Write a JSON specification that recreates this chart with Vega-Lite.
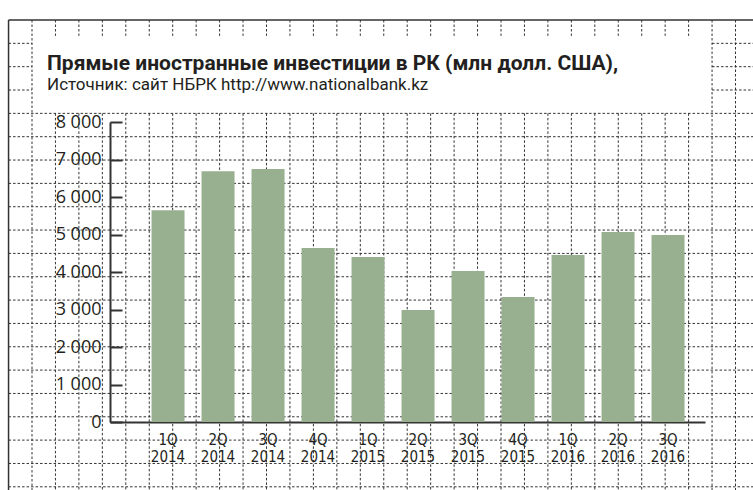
{
  "$schema": "https://vega.github.io/schema/vega-lite/v6.json",
  "width": 753,
  "height": 490,
  "padding": 0,
  "autosize": "none",
  "background": "white",
  "config": {"view": {"stroke": null}},
  "title": {
    "text": "Прямые иностранные инвестиции в РК (млн долл. США),",
    "subtitle": "Источник: сайт НБРК http://www.nationalbank.kz",
    "anchor": "start",
    "frame": "group",
    "orient": "top",
    "offset": 0,
    "dx": 47,
    "dy": 93,
    "font": "Roboto",
    "fontSize": 21,
    "fontWeight": "bold",
    "color": "#231f20",
    "subtitleFont": "Roboto",
    "subtitleFontSize": 17,
    "subtitleColor": "#231f20",
    "subtitlePadding": 3
  },
  "datasets": {
    "vgrid": [
      {"gx": 1, "gy": 0, "gy2": 21},
      {"gx": 2, "gy": 0, "gy2": 0.68}, {"gx": 2, "gy": 4, "gy2": 21},
      {"gx": 3, "gy": 0, "gy2": 0.68}, {"gx": 3, "gy": 4, "gy2": 21},
      {"gx": 4, "gy": 0, "gy2": 0.68}, {"gx": 4, "gy": 4, "gy2": 21},
      {"gx": 5, "gy": 0, "gy2": 0.68}, {"gx": 5, "gy": 4, "gy2": 21},
      {"gx": 6, "gy": 0, "gy2": 0.68}, {"gx": 6, "gy": 4, "gy2": 21},
      {"gx": 7, "gy": 0, "gy2": 0.68}, {"gx": 7, "gy": 4, "gy2": 21},
      {"gx": 8, "gy": 0, "gy2": 0.68}, {"gx": 8, "gy": 4, "gy2": 21},
      {"gx": 9, "gy": 0, "gy2": 0.68}, {"gx": 9, "gy": 4, "gy2": 21},
      {"gx": 10, "gy": 0, "gy2": 0.68}, {"gx": 10, "gy": 4, "gy2": 21},
      {"gx": 11, "gy": 0, "gy2": 0.68}, {"gx": 11, "gy": 4, "gy2": 21},
      {"gx": 12, "gy": 0, "gy2": 0.68}, {"gx": 12, "gy": 4, "gy2": 21},
      {"gx": 13, "gy": 0, "gy2": 0.68}, {"gx": 13, "gy": 4, "gy2": 21},
      {"gx": 14, "gy": 0, "gy2": 0.68}, {"gx": 14, "gy": 4, "gy2": 21},
      {"gx": 15, "gy": 0, "gy2": 0.68}, {"gx": 15, "gy": 4, "gy2": 21},
      {"gx": 16, "gy": 0, "gy2": 0.68}, {"gx": 16, "gy": 4, "gy2": 21},
      {"gx": 17, "gy": 0, "gy2": 0.68}, {"gx": 17, "gy": 4, "gy2": 21},
      {"gx": 18, "gy": 0, "gy2": 0.68}, {"gx": 18, "gy": 4, "gy2": 21},
      {"gx": 19, "gy": 0, "gy2": 0.68}, {"gx": 19, "gy": 4, "gy2": 21},
      {"gx": 20, "gy": 0, "gy2": 0.68}, {"gx": 20, "gy": 4, "gy2": 21},
      {"gx": 21, "gy": 0, "gy2": 0.68}, {"gx": 21, "gy": 4, "gy2": 21},
      {"gx": 22, "gy": 0, "gy2": 0.68}, {"gx": 22, "gy": 4, "gy2": 21},
      {"gx": 23, "gy": 0, "gy2": 0.68}, {"gx": 23, "gy": 4, "gy2": 21},
      {"gx": 24, "gy": 0, "gy2": 0.68}, {"gx": 24, "gy": 4, "gy2": 21},
      {"gx": 25, "gy": 0, "gy2": 0.68}, {"gx": 25, "gy": 4, "gy2": 21},
      {"gx": 26, "gy": 0, "gy2": 0.68}, {"gx": 26, "gy": 4, "gy2": 21},
      {"gx": 27, "gy": 0, "gy2": 0.68}, {"gx": 27, "gy": 4, "gy2": 21},
      {"gx": 28, "gy": 0, "gy2": 0.68}, {"gx": 28, "gy": 4, "gy2": 21},
      {"gx": 29, "gy": 0, "gy2": 0.68}, {"gx": 29, "gy": 4, "gy2": 21},
      {"gx": 30, "gy": 0, "gy2": 21},
      {"gx": 31, "gy": 0, "gy2": 21}
    ],
    "hgrid": [
      {"gy": 1, "gx": 0, "gx2": 1}, {"gy": 1, "gx": 30, "gx2": 32},
      {"gy": 2, "gx": 0, "gx2": 1}, {"gy": 2, "gx": 30, "gx2": 32},
      {"gy": 3, "gx": 0, "gx2": 1}, {"gy": 3, "gx": 30, "gx2": 32},
      {"gy": 4, "gx": 0, "gx2": 32},
      {"gy": 5, "gx": 0, "gx2": 32},
      {"gy": 6, "gx": 0, "gx2": 32},
      {"gy": 7, "gx": 0, "gx2": 32},
      {"gy": 8, "gx": 0, "gx2": 32},
      {"gy": 9, "gx": 0, "gx2": 32},
      {"gy": 10, "gx": 0, "gx2": 32},
      {"gy": 11, "gx": 0, "gx2": 32},
      {"gy": 12, "gx": 0, "gx2": 32},
      {"gy": 13, "gx": 0, "gx2": 32},
      {"gy": 14, "gx": 0, "gx2": 32},
      {"gy": 15, "gx": 0, "gx2": 32},
      {"gy": 16, "gx": 0, "gx2": 32},
      {"gy": 17, "gx": 0, "gx2": 32},
      {"gy": 18, "gx": 0, "gx2": 32},
      {"gy": 19, "gx": 0, "gx2": 32},
      {"gy": 20, "gx": 0, "gx2": 32}
    ],
    "border": [
      {"gx": 0, "gx2": 0, "gy": 0, "gy2": 21},
      {"gx": 0, "gx2": 32, "gy": 0, "gy2": 0}
    ],
    "bars": [
      {"q": "1Q 2014", "v": 5650},
      {"q": "2Q 2014", "v": 6690},
      {"q": "3Q 2014", "v": 6745},
      {"q": "4Q 2014", "v": 4640},
      {"q": "1Q 2015", "v": 4400},
      {"q": "2Q 2015", "v": 2985},
      {"q": "3Q 2015", "v": 4025},
      {"q": "4Q 2015", "v": 3335},
      {"q": "1Q 2016", "v": 4455},
      {"q": "2Q 2016", "v": 5065},
      {"q": "3Q 2016", "v": 4985}
    ]
  },
  "layer": [
    {
      "data": {"name": "vgrid"},
      "mark": {"type": "rule", "color": "#333333", "strokeWidth": 1, "strokeDash": [2.5, 2]},
      "encoding": {
        "x": {"field": "gx", "type": "quantitative", "scale": {"domain": [-0.3646, 31.746], "nice": false, "zero": false}, "axis": null},
        "y": {"field": "gy", "type": "quantitative", "scale": {"domain": [-0.857, 20.137], "nice": false, "zero": false, "reverse": true}, "axis": null},
        "y2": {"field": "gy2"}
      }
    },
    {
      "data": {"name": "hgrid"},
      "mark": {"type": "rule", "color": "#333333", "strokeWidth": 1, "strokeDash": [2.5, 2]},
      "encoding": {
        "x": {"field": "gx", "type": "quantitative", "scale": {"domain": [-0.3646, 31.746], "nice": false, "zero": false}, "axis": null},
        "x2": {"field": "gx2"},
        "y": {"field": "gy", "type": "quantitative", "scale": {"domain": [-0.857, 20.137], "nice": false, "zero": false, "reverse": true}, "axis": null}
      }
    },
    {
      "data": {"name": "border"},
      "mark": {"type": "rule", "color": "#333333", "strokeWidth": 1.5},
      "encoding": {
        "x": {"field": "gx", "type": "quantitative", "scale": {"domain": [-0.3646, 31.746], "nice": false, "zero": false}, "axis": null},
        "x2": {"field": "gx2"},
        "y": {"field": "gy", "type": "quantitative", "scale": {"domain": [-0.857, 20.137], "nice": false, "zero": false, "reverse": true}, "axis": null},
        "y2": {"field": "gy2"}
      }
    },
    {
      "data": {"name": "bars"},
      "mark": {"type": "bar", "color": "#98b08f"},
      "encoding": {
        "x": {
          "field": "q", "type": "nominal", "sort": null,
          "scale": {"range": [110, 705], "paddingInner": 0.34, "paddingOuter": 0.62, "align": 0.67},
          "axis": {
            "orient": "bottom", "offset": -68, "title": null,
            "domainColor": "#333333", "domainWidth": 2,
            "ticks": false, "labelAngle": 0,
            "labelExpr": "split(datum.label, ' ')",
            "labelFont": "Liberation Sans Narrow, DejaVu Sans Condensed, Roboto Condensed, sans-serif",
            "labelFontSize": 15, "labelLineHeight": 17, "labelColor": "#231f20",
            "labelPadding": 10
          }
        },
        "y": {
          "field": "v", "type": "quantitative",
          "scale": {"domain": [0, 8000], "range": [422, 122], "nice": false},
          "axis": {
            "orient": "left", "offset": -110, "title": null, "grid": false,
            "values": [0, 1000, 2000, 3000, 4000, 5000, 6000, 7000, 8000],
            "labelExpr": "replace(format(datum.value, ','), ',', ' ')",
            "domainColor": "#333333", "domainWidth": 2,
            "tickColor": "#333333", "tickWidth": 2, "tickSize": -12,
            "labelPadding": 21,
            "labelFont": "Open Sans", "labelFontSize": 18, "labelColor": "#231f20"
          }
        }
      }
    }
  ],
  "resolve": {"scale": {"x": "independent", "y": "independent"}}
}
